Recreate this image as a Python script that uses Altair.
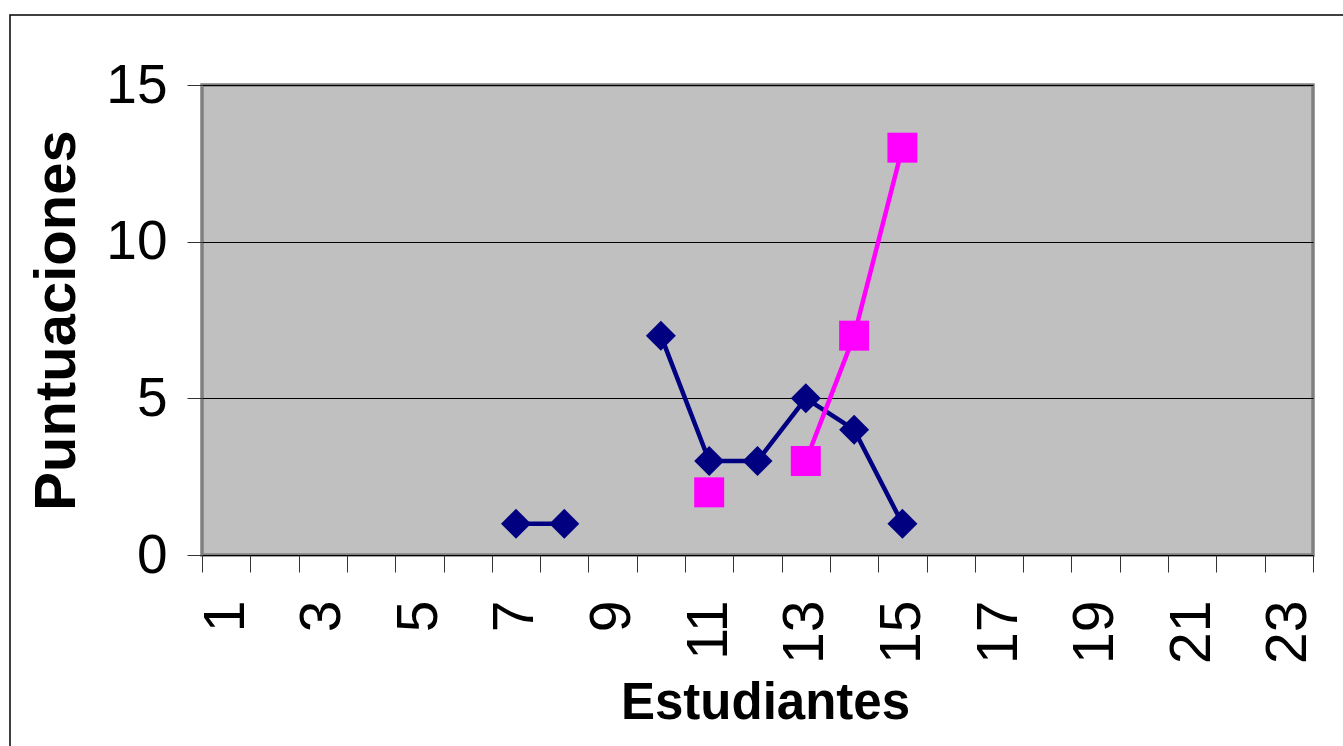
import altair as alt
import pandas as pd

# Students on the horizontal axis (all categories shown)
estudiantes = list(range(1, 24))

# Scores per student (None = no score)
alumnos = [7, 8, 9, 10, 11, 12, 13, 14, 15]
serie_azul = [1, 1, None, 7, 3, 3, 5, 4, 1]
serie_rosa = [None, None, None, None, 2, None, 3, 7, 13]

series = [("Serie 1", serie_azul), ("Serie 2", serie_rosa)]
nombres = [s[0] for s in series]
colores = ["#000080", "#FF00FF"]
formas = ["diamond", "square"]

# Long table; consecutive non-missing runs get their own segment id so lines break at gaps
rows = []
for nombre, valores in series:
    seg = 0
    prev = None
    for est, v in zip(alumnos, valores):
        if v is None:
            prev = None
            continue
        if prev is None:
            seg += 1
        rows.append({"Estudiante": est, "Puntuacion": v, "Serie": nombre,
                     "Tramo": f"{nombre}-{seg}", "orden": nombres.index(nombre)})
        prev = v
df = pd.DataFrame(rows)

FONT = "Liberation Sans"

x_enc = alt.X(
    "Estudiante:O",
    scale=alt.Scale(type="band", domain=estudiantes, paddingInner=0, paddingOuter=0),
    axis=alt.Axis(
        title="Estudiantes",
        titleFont=FONT,
        titleFontSize=51, titleFontWeight="bold", titleColor="black",
        titleX=563, titleY=163, titleAlign="center", titleBaseline="alphabetic",
        labelExpr="datum.value % 2 == 1 ? datum.label : ''",
        labelAngle=270, labelAlign="right", labelBaseline="middle",
        labelFont=FONT, labelFontSize=57, labelColor="black", labelPadding=28,
        labelOverlap=False,
        tickBand="extent", tickSize=17, tickColor="#333333", tickWidth=1,
        domain=False, grid=False,
    ),
)

y_enc = alt.Y(
    "Puntuacion:Q",
    scale=alt.Scale(domain=[0, 15], nice=False, zero=True),
    axis=alt.Axis(
        title="Puntuaciones",
        titleFont=FONT, titleFontSize=58, titleFontWeight="bold", titleColor="black",
        titleAngle=270, titleX=-145, titleY=235, titleAlign="center", titleBaseline="middle",
        values=[0, 5, 10, 15],
        labelFont=FONT, labelFontSize=55, labelColor="black", labelPadding=20,
        tickSize=15, tickColor="#333333", tickWidth=1,
        grid=True, gridColor="black", gridWidth=1,
        domain=False,
    ),
)

color_enc = alt.Color("Serie:N", scale=alt.Scale(domain=nombres, range=colores), legend=None)
shape_enc = alt.Shape("Serie:N", scale=alt.Scale(domain=nombres, range=formas), legend=None)

lineas = alt.Chart(df).mark_line(strokeWidth=4.5, strokeJoin="round").encode(
    x=x_enc, y=y_enc, color=color_enc, detail="Tramo:N", order="Estudiante:O"
)

puntos = alt.Chart(df).mark_point(filled=True, opacity=1, size=900, strokeWidth=1.5).encode(
    x=x_enc, y=y_enc, color=color_enc, shape=shape_enc,
    order=alt.Order("orden:Q"),
)

# Outer chart frame
marco = alt.Chart(alt.Data(values=[{"k": 1}])).mark_rect(
    filled=False, stroke="black", strokeWidth=1.5
).encode(
    x=alt.value(-192), x2=alt.value(1200), y=alt.value(-70), y2=alt.value(700)
)

chart = alt.layer(marco, lineas, puntos).properties(
    width=1111, height=470,
    autosize=alt.AutoSizeParams(type="none"),
    padding={"left": 202, "top": 85, "right": 30, "bottom": 191},
    background="white",
).configure_view(
    fill="#C0C0C0", stroke="#808080", strokeWidth=3.5
)

chart.save("out.html", embed_options={"renderer": "svg", "actions": False})
